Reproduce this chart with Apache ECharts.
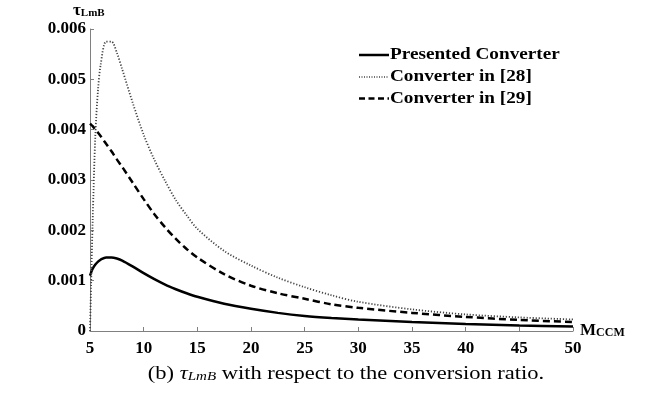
<!DOCTYPE html>
<html>
<head>
<meta charset="utf-8">
<script src="https://cdn.jsdelivr.net/npm/echarts@6/dist/echarts.min.js"></script>
<style>
  html, body { margin: 0; padding: 0; background: #fff; }
  #chart { width: 657px; height: 393px; }
</style>
</head>
<body>
<div id="chart"></div>
<script>
// Conversion ratio M_CCM (x axis)
const mValues = [5, 5.1, 5.25, 5.5, 5.75, 6, 6.5, 7, 7.5, 8, 9, 10, 11, 12, 13, 14, 15, 17.5, 20, 22.5, 25, 27.5, 30, 35, 40, 45, 50];

// tau_LmB for each converter
const presented = [0.00110, 0.00116, 0.00124, 0.00132, 0.00138, 0.00142, 0.00146, 0.00146, 0.00144, 0.00140, 0.00128, 0.00115, 0.00103, 0.00092, 0.00083, 0.00075, 0.00068, 0.00054, 0.00044, 0.00036, 0.00030, 0.00026, 0.00023, 0.00018, 0.00014, 0.00011, 0.00009];
const conv28 = [0.00000, 0.00090, 0.00220, 0.00390, 0.00480, 0.00530, 0.00575, 0.00575, 0.00553, 0.00520, 0.00452, 0.00390, 0.00340, 0.00298, 0.00260, 0.00230, 0.00203, 0.00159, 0.00130, 0.00106, 0.00087, 0.00071, 0.00058, 0.00043, 0.00033, 0.00027, 0.00023];
const conv29 = [0.00412, 0.00410, 0.00407, 0.00400, 0.00394, 0.00387, 0.00372, 0.00357, 0.00341, 0.00326, 0.00294, 0.00262, 0.00232, 0.00206, 0.00183, 0.00163, 0.00146, 0.00113, 0.00090, 0.00075, 0.00064, 0.00053, 0.00046, 0.00036, 0.00028, 0.00022, 0.00018];

const seriesNames = ['Presented Converter', 'Converter in [28]', 'Converter in [29]'];
const xTicks = [5, 10, 15, 20, 25, 30, 35, 40, 45, 50];
const yTicks = [0, 0.001, 0.002, 0.003, 0.004, 0.005, 0.006];

const serif = '"Liberation Serif", "Times New Roman", serif';
const pairs = vals => mValues.map((m, i) => [m, vals[i]]);

// line styles shared by the curves and the key
const styles = [
  { color: '#000', width: 2.5, type: 'solid' },
  { color: '#444', width: 1.8, type: [1.2, 1.8] },
  { color: '#000', width: 2.5, type: [7, 4] }
];

const chart = echarts.init(document.getElementById('chart'), null, { renderer: 'canvas' });

const axisCommon = {
  axisLine: { show: true, lineStyle: { color: '#808080', width: 1 } },
  axisTick: { show: true, inside: true, length: 4, lineStyle: { color: '#808080' } },
  splitLine: { show: false },
  axisLabel: { color: '#000', fontFamily: serif, fontWeight: 'bold', fontSize: 17 }
};

// key drawn at the upper right: a line sample and a label per series
const keyRows = [55, 77, 98.5];
const keyGraphics = [];
seriesNames.forEach((name, i) => {
  const s = styles[i];
  keyGraphics.push({
    type: 'line',
    shape: { x1: 359, y1: keyRows[i], x2: 389, y2: keyRows[i] },
    style: { stroke: s.color, lineWidth: i === 1 ? 1.4 : s.width, lineDash: s.type === 'solid' ? null : (i === 1 ? [1, 1.5] : [6, 3.5]) }
  });
  keyGraphics.push({
    type: 'text', x: 390, y: keyRows[i], scaleX: 1.2,
    style: {
      text: name, fill: '#000', fontFamily: serif, fontWeight: 'bold', fontSize: 16,
      verticalAlign: 'middle', align: 'left'
    }
  });
});

chart.setOption({
  animation: false,
  backgroundColor: '#fff',
  grid: { left: 90, right: 84, top: 29, bottom: 62, containLabel: false },
  xAxis: Object.assign({}, axisCommon, {
    type: 'value',
    min: xTicks[0], max: xTicks[xTicks.length - 1], interval: 5,
    axisLabel: Object.assign({}, axisCommon.axisLabel, { margin: 9 })
  }),
  yAxis: Object.assign({}, axisCommon, {
    type: 'value',
    min: yTicks[0], max: yTicks[yTicks.length - 1], interval: 0.001,
    axisLabel: Object.assign({}, axisCommon.axisLabel, {
      margin: 4,
      formatter: v => (v === 0 ? '0' : v.toFixed(3))
    })
  }),
  series: [presented, conv28, conv29].map((vals, i) => ({
    name: seriesNames[i], type: 'line', data: pairs(vals), smooth: 0.3,
    symbol: 'none', lineStyle: styles[i]
  })),
  graphic: keyGraphics.concat([
    {
      type: 'text', x: 73, y: 19,
      style: {
        text: '{t|τ}{s|LmB}', verticalAlign: 'bottom',
        rich: {
          t: { fontFamily: serif, fontWeight: 'bold', fontSize: 17, fill: '#000' },
          s: { fontFamily: serif, fontWeight: 'bold', fontSize: 11, fill: '#000', padding: [6, 0, 0, 0] }
        }
      }
    },
    {
      type: 'text', x: 580, y: 322,
      style: {
        text: '{m|M}{s|CCM}',
        rich: {
          m: { fontFamily: serif, fontWeight: 'bold', fontSize: 17, fill: '#000' },
          s: { fontFamily: serif, fontWeight: 'bold', fontSize: 12, fill: '#000', padding: [4, 0, 0, 0] }
        }
      }
    },
    {
      type: 'text', x: 346, y: 374, scaleX: 1.25,
      style: {
        text: '{n|(b) }{i|τ}{is|LmB}{n| with respect to the conversion ratio.}',
        align: 'center', verticalAlign: 'middle',
        rich: {
          n: { fontFamily: serif, fontSize: 18, fill: '#000' },
          i: { fontFamily: serif, fontStyle: 'italic', fontSize: 18, fill: '#000' },
          is: { fontFamily: serif, fontStyle: 'italic', fontSize: 12, fill: '#000', padding: [6, 0, 0, 0] }
        }
      }
    }
  ])
});
</script>
</body>
</html>
